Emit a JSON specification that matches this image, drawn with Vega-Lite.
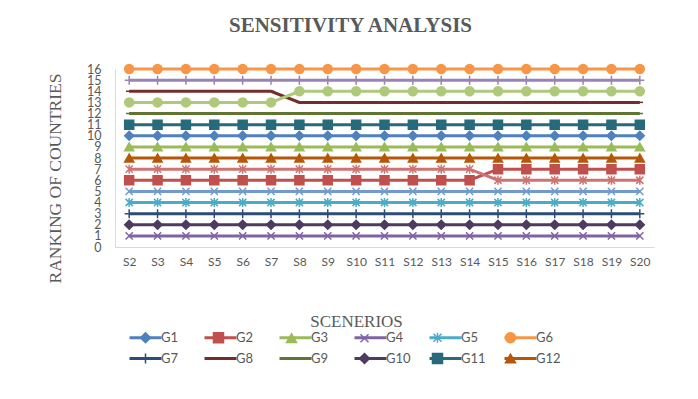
{
"$schema": "https://vega.github.io/schema/vega-lite/v6.json",
"autosize": "none",
"width": 539,
"height": 178,
"padding": {"left": 115, "top": 69, "right": 44, "bottom": 152},
"background": "white",
"config": {"view": {"stroke": null}, "font": "Lato"},
"title": {"text": "SENSITIVITY ANALYSIS", "font": "Liberation Serif", "fontWeight": "bold", "fontSize": 21, "color": "#595959", "anchor": "middle", "frame": "group", "dx": -34, "offset": 26},
"data": {"values": [
{"s":"S2","g":"G1","r":10},{"s":"S3","g":"G1","r":10},{"s":"S4","g":"G1","r":10},{"s":"S5","g":"G1","r":10},{"s":"S6","g":"G1","r":10},{"s":"S7","g":"G1","r":10},{"s":"S8","g":"G1","r":10},{"s":"S9","g":"G1","r":10},{"s":"S10","g":"G1","r":10},{"s":"S11","g":"G1","r":10},{"s":"S12","g":"G1","r":10},{"s":"S13","g":"G1","r":10},{"s":"S14","g":"G1","r":10},{"s":"S15","g":"G1","r":10},{"s":"S16","g":"G1","r":10},{"s":"S17","g":"G1","r":10},{"s":"S18","g":"G1","r":10},{"s":"S19","g":"G1","r":10},{"s":"S20","g":"G1","r":10},
{"s":"S2","g":"G2","r":6},{"s":"S3","g":"G2","r":6},{"s":"S4","g":"G2","r":6},{"s":"S5","g":"G2","r":6},{"s":"S6","g":"G2","r":6},{"s":"S7","g":"G2","r":6},{"s":"S8","g":"G2","r":6},{"s":"S9","g":"G2","r":6},{"s":"S10","g":"G2","r":6},{"s":"S11","g":"G2","r":6},{"s":"S12","g":"G2","r":6},{"s":"S13","g":"G2","r":6},{"s":"S14","g":"G2","r":6},{"s":"S15","g":"G2","r":7},{"s":"S16","g":"G2","r":7},{"s":"S17","g":"G2","r":7},{"s":"S18","g":"G2","r":7},{"s":"S19","g":"G2","r":7},{"s":"S20","g":"G2","r":7},
{"s":"S2","g":"G3","r":9},{"s":"S3","g":"G3","r":9},{"s":"S4","g":"G3","r":9},{"s":"S5","g":"G3","r":9},{"s":"S6","g":"G3","r":9},{"s":"S7","g":"G3","r":9},{"s":"S8","g":"G3","r":9},{"s":"S9","g":"G3","r":9},{"s":"S10","g":"G3","r":9},{"s":"S11","g":"G3","r":9},{"s":"S12","g":"G3","r":9},{"s":"S13","g":"G3","r":9},{"s":"S14","g":"G3","r":9},{"s":"S15","g":"G3","r":9},{"s":"S16","g":"G3","r":9},{"s":"S17","g":"G3","r":9},{"s":"S18","g":"G3","r":9},{"s":"S19","g":"G3","r":9},{"s":"S20","g":"G3","r":9},
{"s":"S2","g":"G4","r":1},{"s":"S3","g":"G4","r":1},{"s":"S4","g":"G4","r":1},{"s":"S5","g":"G4","r":1},{"s":"S6","g":"G4","r":1},{"s":"S7","g":"G4","r":1},{"s":"S8","g":"G4","r":1},{"s":"S9","g":"G4","r":1},{"s":"S10","g":"G4","r":1},{"s":"S11","g":"G4","r":1},{"s":"S12","g":"G4","r":1},{"s":"S13","g":"G4","r":1},{"s":"S14","g":"G4","r":1},{"s":"S15","g":"G4","r":1},{"s":"S16","g":"G4","r":1},{"s":"S17","g":"G4","r":1},{"s":"S18","g":"G4","r":1},{"s":"S19","g":"G4","r":1},{"s":"S20","g":"G4","r":1},
{"s":"S2","g":"G5","r":4},{"s":"S3","g":"G5","r":4},{"s":"S4","g":"G5","r":4},{"s":"S5","g":"G5","r":4},{"s":"S6","g":"G5","r":4},{"s":"S7","g":"G5","r":4},{"s":"S8","g":"G5","r":4},{"s":"S9","g":"G5","r":4},{"s":"S10","g":"G5","r":4},{"s":"S11","g":"G5","r":4},{"s":"S12","g":"G5","r":4},{"s":"S13","g":"G5","r":4},{"s":"S14","g":"G5","r":4},{"s":"S15","g":"G5","r":4},{"s":"S16","g":"G5","r":4},{"s":"S17","g":"G5","r":4},{"s":"S18","g":"G5","r":4},{"s":"S19","g":"G5","r":4},{"s":"S20","g":"G5","r":4},
{"s":"S2","g":"G6","r":16},{"s":"S3","g":"G6","r":16},{"s":"S4","g":"G6","r":16},{"s":"S5","g":"G6","r":16},{"s":"S6","g":"G6","r":16},{"s":"S7","g":"G6","r":16},{"s":"S8","g":"G6","r":16},{"s":"S9","g":"G6","r":16},{"s":"S10","g":"G6","r":16},{"s":"S11","g":"G6","r":16},{"s":"S12","g":"G6","r":16},{"s":"S13","g":"G6","r":16},{"s":"S14","g":"G6","r":16},{"s":"S15","g":"G6","r":16},{"s":"S16","g":"G6","r":16},{"s":"S17","g":"G6","r":16},{"s":"S18","g":"G6","r":16},{"s":"S19","g":"G6","r":16},{"s":"S20","g":"G6","r":16},
{"s":"S2","g":"G7","r":3},{"s":"S3","g":"G7","r":3},{"s":"S4","g":"G7","r":3},{"s":"S5","g":"G7","r":3},{"s":"S6","g":"G7","r":3},{"s":"S7","g":"G7","r":3},{"s":"S8","g":"G7","r":3},{"s":"S9","g":"G7","r":3},{"s":"S10","g":"G7","r":3},{"s":"S11","g":"G7","r":3},{"s":"S12","g":"G7","r":3},{"s":"S13","g":"G7","r":3},{"s":"S14","g":"G7","r":3},{"s":"S15","g":"G7","r":3},{"s":"S16","g":"G7","r":3},{"s":"S17","g":"G7","r":3},{"s":"S18","g":"G7","r":3},{"s":"S19","g":"G7","r":3},{"s":"S20","g":"G7","r":3},
{"s":"S2","g":"G8","r":14},{"s":"S3","g":"G8","r":14},{"s":"S4","g":"G8","r":14},{"s":"S5","g":"G8","r":14},{"s":"S6","g":"G8","r":14},{"s":"S7","g":"G8","r":14},{"s":"S8","g":"G8","r":13},{"s":"S9","g":"G8","r":13},{"s":"S10","g":"G8","r":13},{"s":"S11","g":"G8","r":13},{"s":"S12","g":"G8","r":13},{"s":"S13","g":"G8","r":13},{"s":"S14","g":"G8","r":13},{"s":"S15","g":"G8","r":13},{"s":"S16","g":"G8","r":13},{"s":"S17","g":"G8","r":13},{"s":"S18","g":"G8","r":13},{"s":"S19","g":"G8","r":13},{"s":"S20","g":"G8","r":13},
{"s":"S2","g":"G9","r":12},{"s":"S3","g":"G9","r":12},{"s":"S4","g":"G9","r":12},{"s":"S5","g":"G9","r":12},{"s":"S6","g":"G9","r":12},{"s":"S7","g":"G9","r":12},{"s":"S8","g":"G9","r":12},{"s":"S9","g":"G9","r":12},{"s":"S10","g":"G9","r":12},{"s":"S11","g":"G9","r":12},{"s":"S12","g":"G9","r":12},{"s":"S13","g":"G9","r":12},{"s":"S14","g":"G9","r":12},{"s":"S15","g":"G9","r":12},{"s":"S16","g":"G9","r":12},{"s":"S17","g":"G9","r":12},{"s":"S18","g":"G9","r":12},{"s":"S19","g":"G9","r":12},{"s":"S20","g":"G9","r":12},
{"s":"S2","g":"G10","r":2},{"s":"S3","g":"G10","r":2},{"s":"S4","g":"G10","r":2},{"s":"S5","g":"G10","r":2},{"s":"S6","g":"G10","r":2},{"s":"S7","g":"G10","r":2},{"s":"S8","g":"G10","r":2},{"s":"S9","g":"G10","r":2},{"s":"S10","g":"G10","r":2},{"s":"S11","g":"G10","r":2},{"s":"S12","g":"G10","r":2},{"s":"S13","g":"G10","r":2},{"s":"S14","g":"G10","r":2},{"s":"S15","g":"G10","r":2},{"s":"S16","g":"G10","r":2},{"s":"S17","g":"G10","r":2},{"s":"S18","g":"G10","r":2},{"s":"S19","g":"G10","r":2},{"s":"S20","g":"G10","r":2},
{"s":"S2","g":"G11","r":11},{"s":"S3","g":"G11","r":11},{"s":"S4","g":"G11","r":11},{"s":"S5","g":"G11","r":11},{"s":"S6","g":"G11","r":11},{"s":"S7","g":"G11","r":11},{"s":"S8","g":"G11","r":11},{"s":"S9","g":"G11","r":11},{"s":"S10","g":"G11","r":11},{"s":"S11","g":"G11","r":11},{"s":"S12","g":"G11","r":11},{"s":"S13","g":"G11","r":11},{"s":"S14","g":"G11","r":11},{"s":"S15","g":"G11","r":11},{"s":"S16","g":"G11","r":11},{"s":"S17","g":"G11","r":11},{"s":"S18","g":"G11","r":11},{"s":"S19","g":"G11","r":11},{"s":"S20","g":"G11","r":11},
{"s":"S2","g":"G12","r":8},{"s":"S3","g":"G12","r":8},{"s":"S4","g":"G12","r":8},{"s":"S5","g":"G12","r":8},{"s":"S6","g":"G12","r":8},{"s":"S7","g":"G12","r":8},{"s":"S8","g":"G12","r":8},{"s":"S9","g":"G12","r":8},{"s":"S10","g":"G12","r":8},{"s":"S11","g":"G12","r":8},{"s":"S12","g":"G12","r":8},{"s":"S13","g":"G12","r":8},{"s":"S14","g":"G12","r":8},{"s":"S15","g":"G12","r":8},{"s":"S16","g":"G12","r":8},{"s":"S17","g":"G12","r":8},{"s":"S18","g":"G12","r":8},{"s":"S19","g":"G12","r":8},{"s":"S20","g":"G12","r":8},
{"s":"S2","g":"G13","r":5},{"s":"S3","g":"G13","r":5},{"s":"S4","g":"G13","r":5},{"s":"S5","g":"G13","r":5},{"s":"S6","g":"G13","r":5},{"s":"S7","g":"G13","r":5},{"s":"S8","g":"G13","r":5},{"s":"S9","g":"G13","r":5},{"s":"S10","g":"G13","r":5},{"s":"S11","g":"G13","r":5},{"s":"S12","g":"G13","r":5},{"s":"S13","g":"G13","r":5},{"s":"S14","g":"G13","r":5},{"s":"S15","g":"G13","r":5},{"s":"S16","g":"G13","r":5},{"s":"S17","g":"G13","r":5},{"s":"S18","g":"G13","r":5},{"s":"S19","g":"G13","r":5},{"s":"S20","g":"G13","r":5},
{"s":"S2","g":"G14","r":7},{"s":"S3","g":"G14","r":7},{"s":"S4","g":"G14","r":7},{"s":"S5","g":"G14","r":7},{"s":"S6","g":"G14","r":7},{"s":"S7","g":"G14","r":7},{"s":"S8","g":"G14","r":7},{"s":"S9","g":"G14","r":7},{"s":"S10","g":"G14","r":7},{"s":"S11","g":"G14","r":7},{"s":"S12","g":"G14","r":7},{"s":"S13","g":"G14","r":7},{"s":"S14","g":"G14","r":7},{"s":"S15","g":"G14","r":6},{"s":"S16","g":"G14","r":6},{"s":"S17","g":"G14","r":6},{"s":"S18","g":"G14","r":6},{"s":"S19","g":"G14","r":6},{"s":"S20","g":"G14","r":6},
{"s":"S2","g":"G15","r":13},{"s":"S3","g":"G15","r":13},{"s":"S4","g":"G15","r":13},{"s":"S5","g":"G15","r":13},{"s":"S6","g":"G15","r":13},{"s":"S7","g":"G15","r":13},{"s":"S8","g":"G15","r":14},{"s":"S9","g":"G15","r":14},{"s":"S10","g":"G15","r":14},{"s":"S11","g":"G15","r":14},{"s":"S12","g":"G15","r":14},{"s":"S13","g":"G15","r":14},{"s":"S14","g":"G15","r":14},{"s":"S15","g":"G15","r":14},{"s":"S16","g":"G15","r":14},{"s":"S17","g":"G15","r":14},{"s":"S18","g":"G15","r":14},{"s":"S19","g":"G15","r":14},{"s":"S20","g":"G15","r":14},
{"s":"S2","g":"G16","r":15},{"s":"S3","g":"G16","r":15},{"s":"S4","g":"G16","r":15},{"s":"S5","g":"G16","r":15},{"s":"S6","g":"G16","r":15},{"s":"S7","g":"G16","r":15},{"s":"S8","g":"G16","r":15},{"s":"S9","g":"G16","r":15},{"s":"S10","g":"G16","r":15},{"s":"S11","g":"G16","r":15},{"s":"S12","g":"G16","r":15},{"s":"S13","g":"G16","r":15},{"s":"S14","g":"G16","r":15},{"s":"S15","g":"G16","r":15},{"s":"S16","g":"G16","r":15},{"s":"S17","g":"G16","r":15},{"s":"S18","g":"G16","r":15},{"s":"S19","g":"G16","r":15},{"s":"S20","g":"G16","r":15}
]},
"encoding": {
  "x": {"field": "s", "type": "ordinal",
    "scale": {"type": "point", "padding": 0.5, "domain": ["S2","S3","S4","S5","S6","S7","S8","S9","S10","S11","S12","S13","S14","S15","S16","S17","S18","S19","S20"]},
    "axis": {"title": "SCENERIOS", "titleFont": "Liberation Serif", "titleFontWeight": "normal", "titleFontSize": 17, "titleColor": "#595959", "titleX": 241, "titleY": 74, "titleBaseline": "middle",
      "labelAngle": 0, "labelFont": "Lato", "labelFontSize": 12, "labelColor": "#595959", "labelPadding": 9, "ticks": false, "domainColor": "#d9d9d9", "domainWidth": 1, "grid": false}},
  "y": {"field": "r", "type": "quantitative",
    "scale": {"domain": [0, 16], "nice": false, "zero": true},
    "axis": {"title": "RANKING OF COUNTRIES", "titleFont": "Liberation Serif", "titleFontWeight": "normal", "titleFontSize": 17.5, "titleColor": "#595959", "titleX": -60, "titleY": 109, "titleBaseline": "middle", "titleAlign": "center",
      "values": [0,1,2,3,4,5,6,7,8,9,10,11,12,13,14,15,16], "format": "d", "labelOverlap": false, "labelFont": "Lato", "labelFontSize": 12.5, "labelColor": "#595959", "labelPadding": 14, "ticks": false, "domainColor": "#d9d9d9", "domainWidth": 1, "grid": false}}
},
"layer": [
  {"mark": {"type": "line", "strokeWidth": 3},
   "encoding": {
     "stroke": {"field": "g", "type": "nominal",
       "scale": {"domain": ["G1","G2","G3","G4","G5","G6","G7","G8","G9","G10","G11","G12","G13","G14","G16","G15"],
                 "range": ["#4F81BD","#C0504D","#9BBB59","#8064A2","#4BACC6","#F79646","#2C4D75","#772C2A","#5F7530","#4D3B62","#276A7C","#B65708","#729ACA","#CD7371","#9983B5","#AFC97A"]},
       "legend": {"orient": "none", "legendX": 24, "legendY": 262, "direction": "horizontal", "columns": 6, "gridAlign": "all", "title": null, "padding": 0,
         "values": ["G1","G2","G3","G4","G5","G6","G7","G8","G9","G10","G11","G12"],
         "symbolType": "M-3.2,0H3.2", "symbolSize": 100, "symbolStrokeWidth": 3, "symbolOpacity": 1,
         "labelOffset": 9, "columnPadding": 12, "rowPadding": 7,
         "labelFont": "Lato", "labelFontSize": 13, "labelColor": "#595959"}},
     "detail": {"field": "g"},
     "order": {"value": null}
   }},
  {"mark": {"type": "point", "size": 81, "strokeWidth": 1.5, "opacity": 1, "filled": false},
   "encoding": {
     "color": {"field": "g", "type": "nominal",
       "scale": {"domain": ["G1","G2","G3","G4","G5","G6","G7","G8","G9","G10","G11","G12","G13","G14","G15","G16"],
                 "range": ["#4F81BD","#C0504D","#9BBB59","#8064A2","#4BACC6","#F79646","#2C4D75","#772C2A","#5F7530","#4D3B62","#276A7C","#B65708","#729ACA","#CD7371","#AFC97A","#9983B5"]}},
     "fill": {"field": "g", "type": "nominal",
       "scale": {"domain": ["G1","G2","G3","G4","G5","G6","G7","G8","G9","G10","G11","G12","G13","G14","G15","G16"],
                 "range": ["#4F81BD","#C0504D","#9BBB59","#8064A2","#4BACC6","#F79646","#2C4D75","#772C2A","#5F7530","#4D3B62","#276A7C","#B65708","#729ACA","#CD7371","#AFC97A","#9983B5"]},
       "legend": null},
     "shape": {"field": "g", "type": "nominal",
       "scale": {"domain": ["G1","G2","G3","G4","G5","G6","G7","G8","G9","G10","G11","G12","G13","G14","G15","G16"],
                 "range": ["diamond","square","triangle-up","M-0.8,-0.8L0.8,0.8M-0.8,0.8L0.8,-0.8","M-0.8,-0.8L0.8,0.8M-0.8,0.8L0.8,-0.8M0,-1V1","circle","M-1,0H1M0,-1V1","M-0.7,0H0.7","M-0.7,0H0.7","diamond","square","triangle-up","M-0.8,-0.8L0.8,0.8M-0.8,0.8L0.8,-0.8","M-0.8,-0.8L0.8,0.8M-0.8,0.8L0.8,-0.8M0,-1V1","circle","M-1,0H1M0,-1V1"]},
       "legend": {"orient": "none", "legendX": 24, "legendY": 262, "direction": "horizontal", "columns": 6, "gridAlign": "all", "title": null, "padding": 0,
         "values": ["G1","G2","G3","G4","G5","G6","G7","G8","G9","G10","G11","G12"],
         "symbolSize": 100, "symbolStrokeWidth": 1.5, "symbolOpacity": 1,
         "labelOffset": 9, "columnPadding": 24, "rowPadding": 4,
         "labelFont": "Lato", "labelFontSize": 13, "labelColor": "#595959", "labelOpacity": 0}}
   }}
]
}
